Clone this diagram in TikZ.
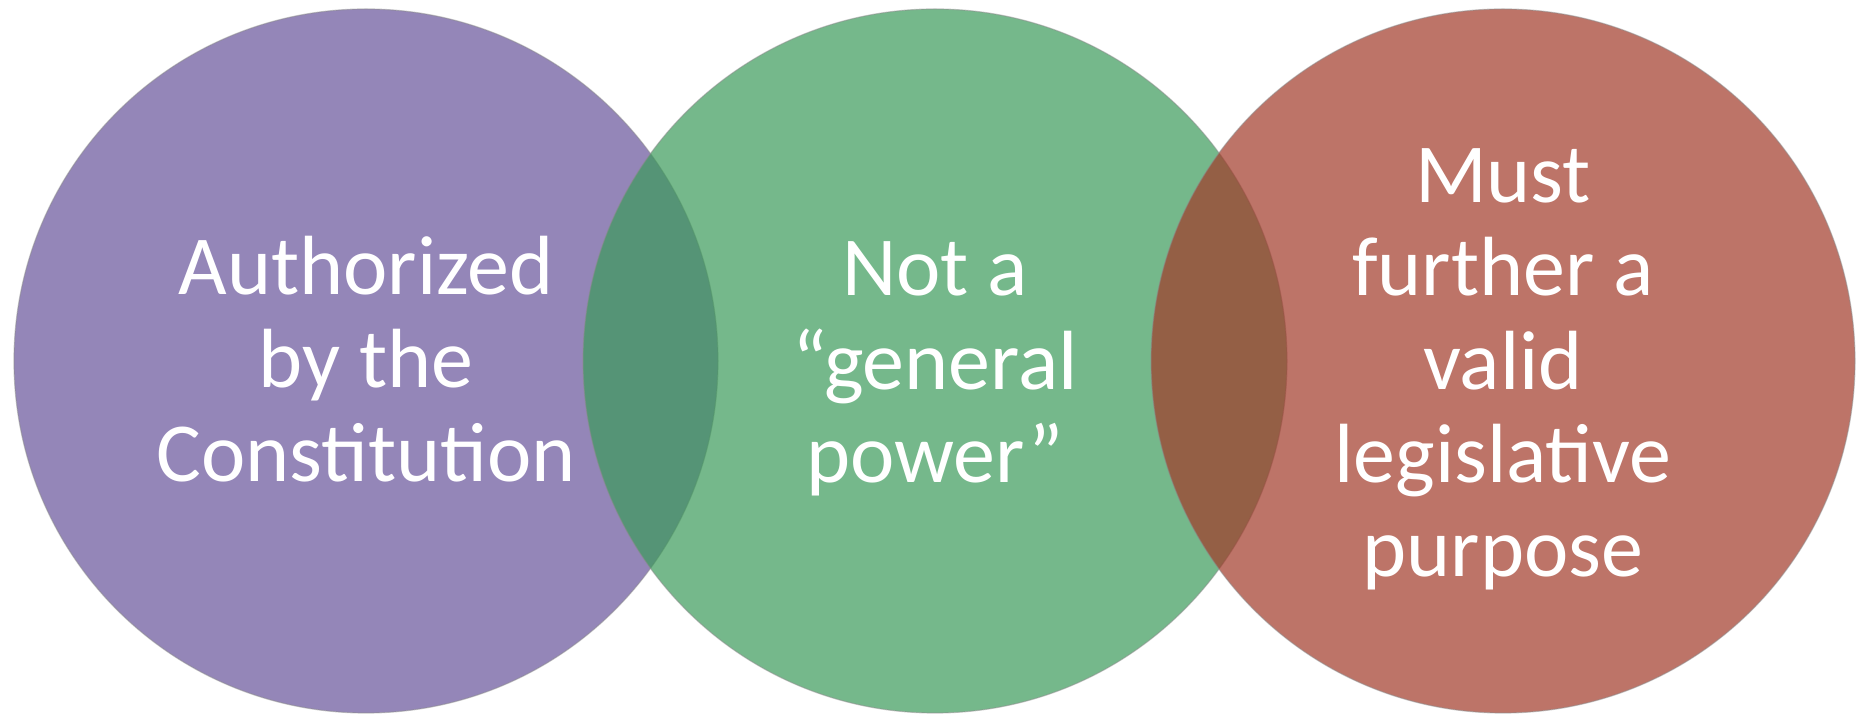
\documentclass[tikz,border=0pt]{standalone}
\usepackage{fontspec}
\setmainfont{Carlito}
\usepackage{tikz}
\usetikzlibrary{positioning,calc}

\definecolor{vennpurple}{RGB}{102,82,154}
\definecolor{venngreen}{RGB}{59,154,90}
\definecolor{vennred}{RGB}{161,57,40}

\begin{document}
\begin{tikzpicture}[x=1pt,y=1pt]
  \tikzstyle{venn}=[circle,minimum size=704pt,inner sep=0pt,fill opacity=0.7,draw=black!45,draw opacity=0.5,line width=1.2pt]
  \tikzstyle{vennlabel}=[text=white,align=center,inner sep=0pt,font=\fontsize{84}{93.5}\selectfont]
  \useasboundingbox (0,0) rectangle (1864,717);
  \coordinate (c) at (935,356);

  \draw (c)++(-569,0) node[venn,fill=vennpurple] (P){};
  \draw (c) node[venn,fill=venngreen] (G){};
  \draw (c)++(568,0) node[venn,fill=vennred] (R){};

  \draw (P)++(0,2) node[vennlabel] (p){Authorized\\by the\\Constitution};
  \draw (G)++(0,-8) node[vennlabel] (g){Not a\\“general\\power”};
  \draw (R)++(0,-8) node[vennlabel] (r){Must\\further a\\valid\\legislative\\purpose};
\end{tikzpicture}
\end{document}
